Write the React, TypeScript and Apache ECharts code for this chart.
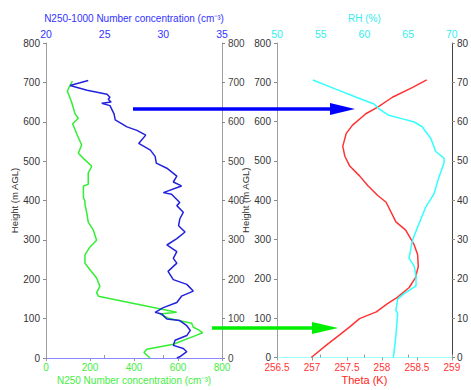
import React, { useEffect, useRef } from "react";
import * as echarts from "echarts";

// N250 number concentration (bottom axis, left panel)
const n250Heights = [0, 14, 22, 35, 58, 64, 72, 78, 88, 101, 112, 116, 157, 166, 182, 203, 224, 241, 262, 282, 299, 325, 345, 370, 391, 399, 407, 437, 441, 470, 487, 507, 520, 541, 570, 595, 609, 620, 649, 678, 692, 703];
const n250Values = [473, 445, 458, 579, 685, 712, 692, 670, 662, 556, 518, 594, 238, 230, 245, 230, 200, 177, 177, 200, 230, 215, 192, 185, 177, 177, 170, 170, 192, 192, 208, 170, 147, 162, 139, 121, 147, 132, 117, 97, 109, 120];

// N250-1000 number concentration (top axis, left panel)
const n1000Heights = [0, 3, 16, 24, 32, 45, 57, 70, 82, 95, 99, 112, 116, 128, 141, 157, 170, 187, 199, 220, 241, 253, 270, 287, 303, 320, 336, 353, 370, 387, 395, 407, 416, 420, 437, 447, 462, 482, 495, 512, 528, 545, 566, 578, 587, 605, 620, 641, 647, 650, 657, 662, 670, 680, 692, 699, 705];
const n1000Values = [31.15, 31.4, 32.0, 31.7, 30.85, 31.0, 32.0, 32.3, 32.0, 31.4, 30.3, 29.85, 29.3, 30.0, 31.15, 31.55, 32.55, 32.0, 30.85, 30.4, 31.15, 30.85, 31.15, 30.3, 31.15, 31.85, 31.3, 31.4, 31.7, 31.15, 31.4, 31.0, 30.7, 30.0, 31.55, 30.85, 31.15, 30.3, 29.4, 29.3, 28.9, 27.9, 28.5, 27.75, 26.9, 25.9, 25.8, 25.45, 24.75, 25.55, 25.3, 25.45, 25.2, 23.5, 22.05, 22.9, 23.6];

// Potential temperature (bottom axis, right panel)
const thetaHeights = [0, 32, 57, 78, 99, 116, 137, 153, 178, 203, 232, 262, 287, 324, 345, 395, 412, 437, 462, 487, 512, 537, 570, 591, 620, 637, 662, 687, 706];
const thetaValues = [256.99, 257.21, 257.39, 257.54, 257.68, 257.92, 258.08, 258.22, 258.39, 258.48, 258.52, 258.51, 258.46, 258.34, 258.2, 258.06, 257.94, 257.8, 257.68, 257.54, 257.47, 257.44, 257.49, 257.58, 257.77, 257.94, 258.15, 258.44, 258.64];

// Relative humidity (top axis, right panel)
const rhHeights = [0, 16, 57, 112, 120, 149, 162, 182, 207, 232, 253, 299, 341, 382, 416, 457, 495, 507, 524, 557, 587, 599, 607, 616, 632, 645, 662, 682, 706];
const rhValues = [63.3, 63.4, 63.6, 63.8, 63.6, 63.8, 64.5, 65.9, 65.9, 65.7, 65.1, 65.5, 66.25, 67.0, 67.95, 68.5, 69.1, 69.1, 68.15, 67.6, 66.6, 65.7, 64.35, 62.8, 61.7, 61.1, 59.06, 56.8, 54.1];

const heightTicks = [0, 100, 200, 300, 400, 500, 600, 700, 800];

const FONT = "Liberation Sans";

function pairs(vals: number[], hs: number[]) {
  return hs.map((h, i) => [vals[i], h]);
}

export default function App() {
  const ref = useRef<HTMLDivElement>(null);
  useEffect(() => {
    if (!ref.current) return;
    const chart = echarts.init(ref.current, undefined, { renderer: "svg" });
    const yBase = (grid: number, pos: "left" | "right", extra: any) => ({
      type: "value",
      gridIndex: grid,
      position: pos,
      min: heightTicks[0],
      max: heightTicks[heightTicks.length - 1],
      interval: 100,
      splitLine: { show: false },
      axisLine: { show: true, lineStyle: { color: "#a0a0a0", width: 1 } },
      axisTick: { show: true, length: 3, lineStyle: { color: "#888" } },
      axisLabel: { color: "#333", fontSize: 10, fontFamily: FONT, margin: 6 },
      ...extra,
    });
    const xBase = (grid: number, pos: "top" | "bottom", min: number, max: number, interval: number, color: string, lineColor: string, extra: any) => ({
      type: "value",
      gridIndex: grid,
      position: pos,
      min,
      max,
      interval,
      splitLine: { show: false },
      axisLine: { show: true, lineStyle: { color: lineColor, width: 1 } },
      axisTick: { show: true, length: 3, lineStyle: { color: "#999" } },
      axisLabel: {
        color,
        fontSize: pos === "bottom" ? 10 : 10.5,
        lineHeight: pos === "bottom" ? 11 : undefined,
        fontFamily: FONT,
        margin: pos === "bottom" ? 4 : 4,
      },
      nameLocation: "middle",
      ...extra,
    });
    chart.setOption({
      animation: false,
      backgroundColor: "#ffffff",
      textStyle: { fontFamily: FONT },
      grid: [
        { left: 46, top: 43, width: 176, height: 320 },
        { left: 277, top: 43, width: 176, height: 320 },
      ],
      xAxis: [
        xBase(0, "bottom", 0, 800, 200, "#44ee44", "#99ff99", {
          name: "N250 Number concentration (cm⁻³)",
          nameGap: 17,
          nameMoveOverlap: false,
          nameTextStyle: { color: "#44ee44", fontSize: 10, lineHeight: 10, fontFamily: FONT },
        }),
        xBase(0, "top", 20, 35, 5, "#3333ff", "#8888ff", {
          name: "N250-1000 Number concentration (cm⁻³)",
          nameGap: 19,
          nameTextStyle: { color: "#3333ff", fontSize: 10, fontFamily: FONT },
        }),
        xBase(1, "bottom", 256.5, 259, 0.5, "#ff3333", "#ff9999", {
          name: "Theta (K)",
          nameGap: 17,
          nameMoveOverlap: false,
          nameTextStyle: { color: "#ff2222", fontSize: 11, lineHeight: 10, fontFamily: FONT },
        }),
        xBase(1, "top", 50, 70, 5, "#33eeee", "#99ffff", {
          name: "RH (%)",
          nameGap: 19,
          nameTextStyle: { color: "#33eeee", fontSize: 10, fontFamily: FONT },
        }),
      ],
      yAxis: [
        yBase(0, "left", {
          name: "Height (m AGL)",
          nameLocation: "middle",
          nameGap: 27,
          nameTextStyle: { color: "#333", fontSize: 9.5, fontFamily: FONT },
        }),
        yBase(0, "right", {
          axisLabel: { color: "#444", fontSize: 10, fontFamily: FONT, margin: 6 },
        }),
        yBase(1, "left", {
          name: "Height (m AGL)",
          nameLocation: "middle",
          nameGap: 25,
          nameTextStyle: { color: "#333", fontSize: 9.5, fontFamily: FONT },
        }),
        yBase(1, "right", {
          axisLine: { show: true, lineStyle: { color: "#444", width: 1 } },
          axisLabel: {
            color: "#333",
            fontSize: 10,
            fontFamily: FONT,
            margin: 5,
            width: 13,
            overflow: "truncate",
            ellipsis: "",
          },
        }),
      ],
      series: [
        {
          type: "line",
          xAxisIndex: 0,
          yAxisIndex: 0,
          data: pairs(n250Values, n250Heights),
          showSymbol: false,
          symbol: "none",
          lineStyle: { color: "#33ee33", width: 1.5 },
        },
        {
          type: "line",
          xAxisIndex: 1,
          yAxisIndex: 0,
          data: pairs(n1000Values, n1000Heights),
          showSymbol: false,
          symbol: "none",
          lineStyle: { color: "#2222dd", width: 1.5 },
        },
        {
          type: "line",
          xAxisIndex: 2,
          yAxisIndex: 2,
          data: pairs(thetaValues, thetaHeights),
          showSymbol: false,
          symbol: "none",
          lineStyle: { color: "#ff3333", width: 1.5 },
        },
        {
          type: "line",
          xAxisIndex: 3,
          yAxisIndex: 2,
          data: pairs(rhValues, rhHeights),
          showSymbol: false,
          symbol: "none",
          lineStyle: { color: "#33ffff", width: 1.5 },
        },
      ],
      graphic: [
        { type: "line", shape: { x1: 133, y1: 109, x2: 332, y2: 109 }, style: { stroke: "#0000ff", lineWidth: 3.5 }, z: 100 },
        { type: "polygon", shape: { points: [[330, 103], [355, 109], [330, 115]] }, style: { fill: "#0000ff" }, z: 100 },
        { type: "line", shape: { x1: 212, y1: 328, x2: 314, y2: 328 }, style: { stroke: "#00ee00", lineWidth: 3.5 }, z: 100 },
        { type: "polygon", shape: { points: [[312, 322], [338, 328], [312, 334]] }, style: { fill: "#00ee00" }, z: 100 },
      ],
    });
    return () => chart.dispose();
  }, []);
  return (
    <div
      ref={ref}
      style={{ position: "absolute", left: 0, top: 0, width: 471, height: 390 }}
    />
  );
}
